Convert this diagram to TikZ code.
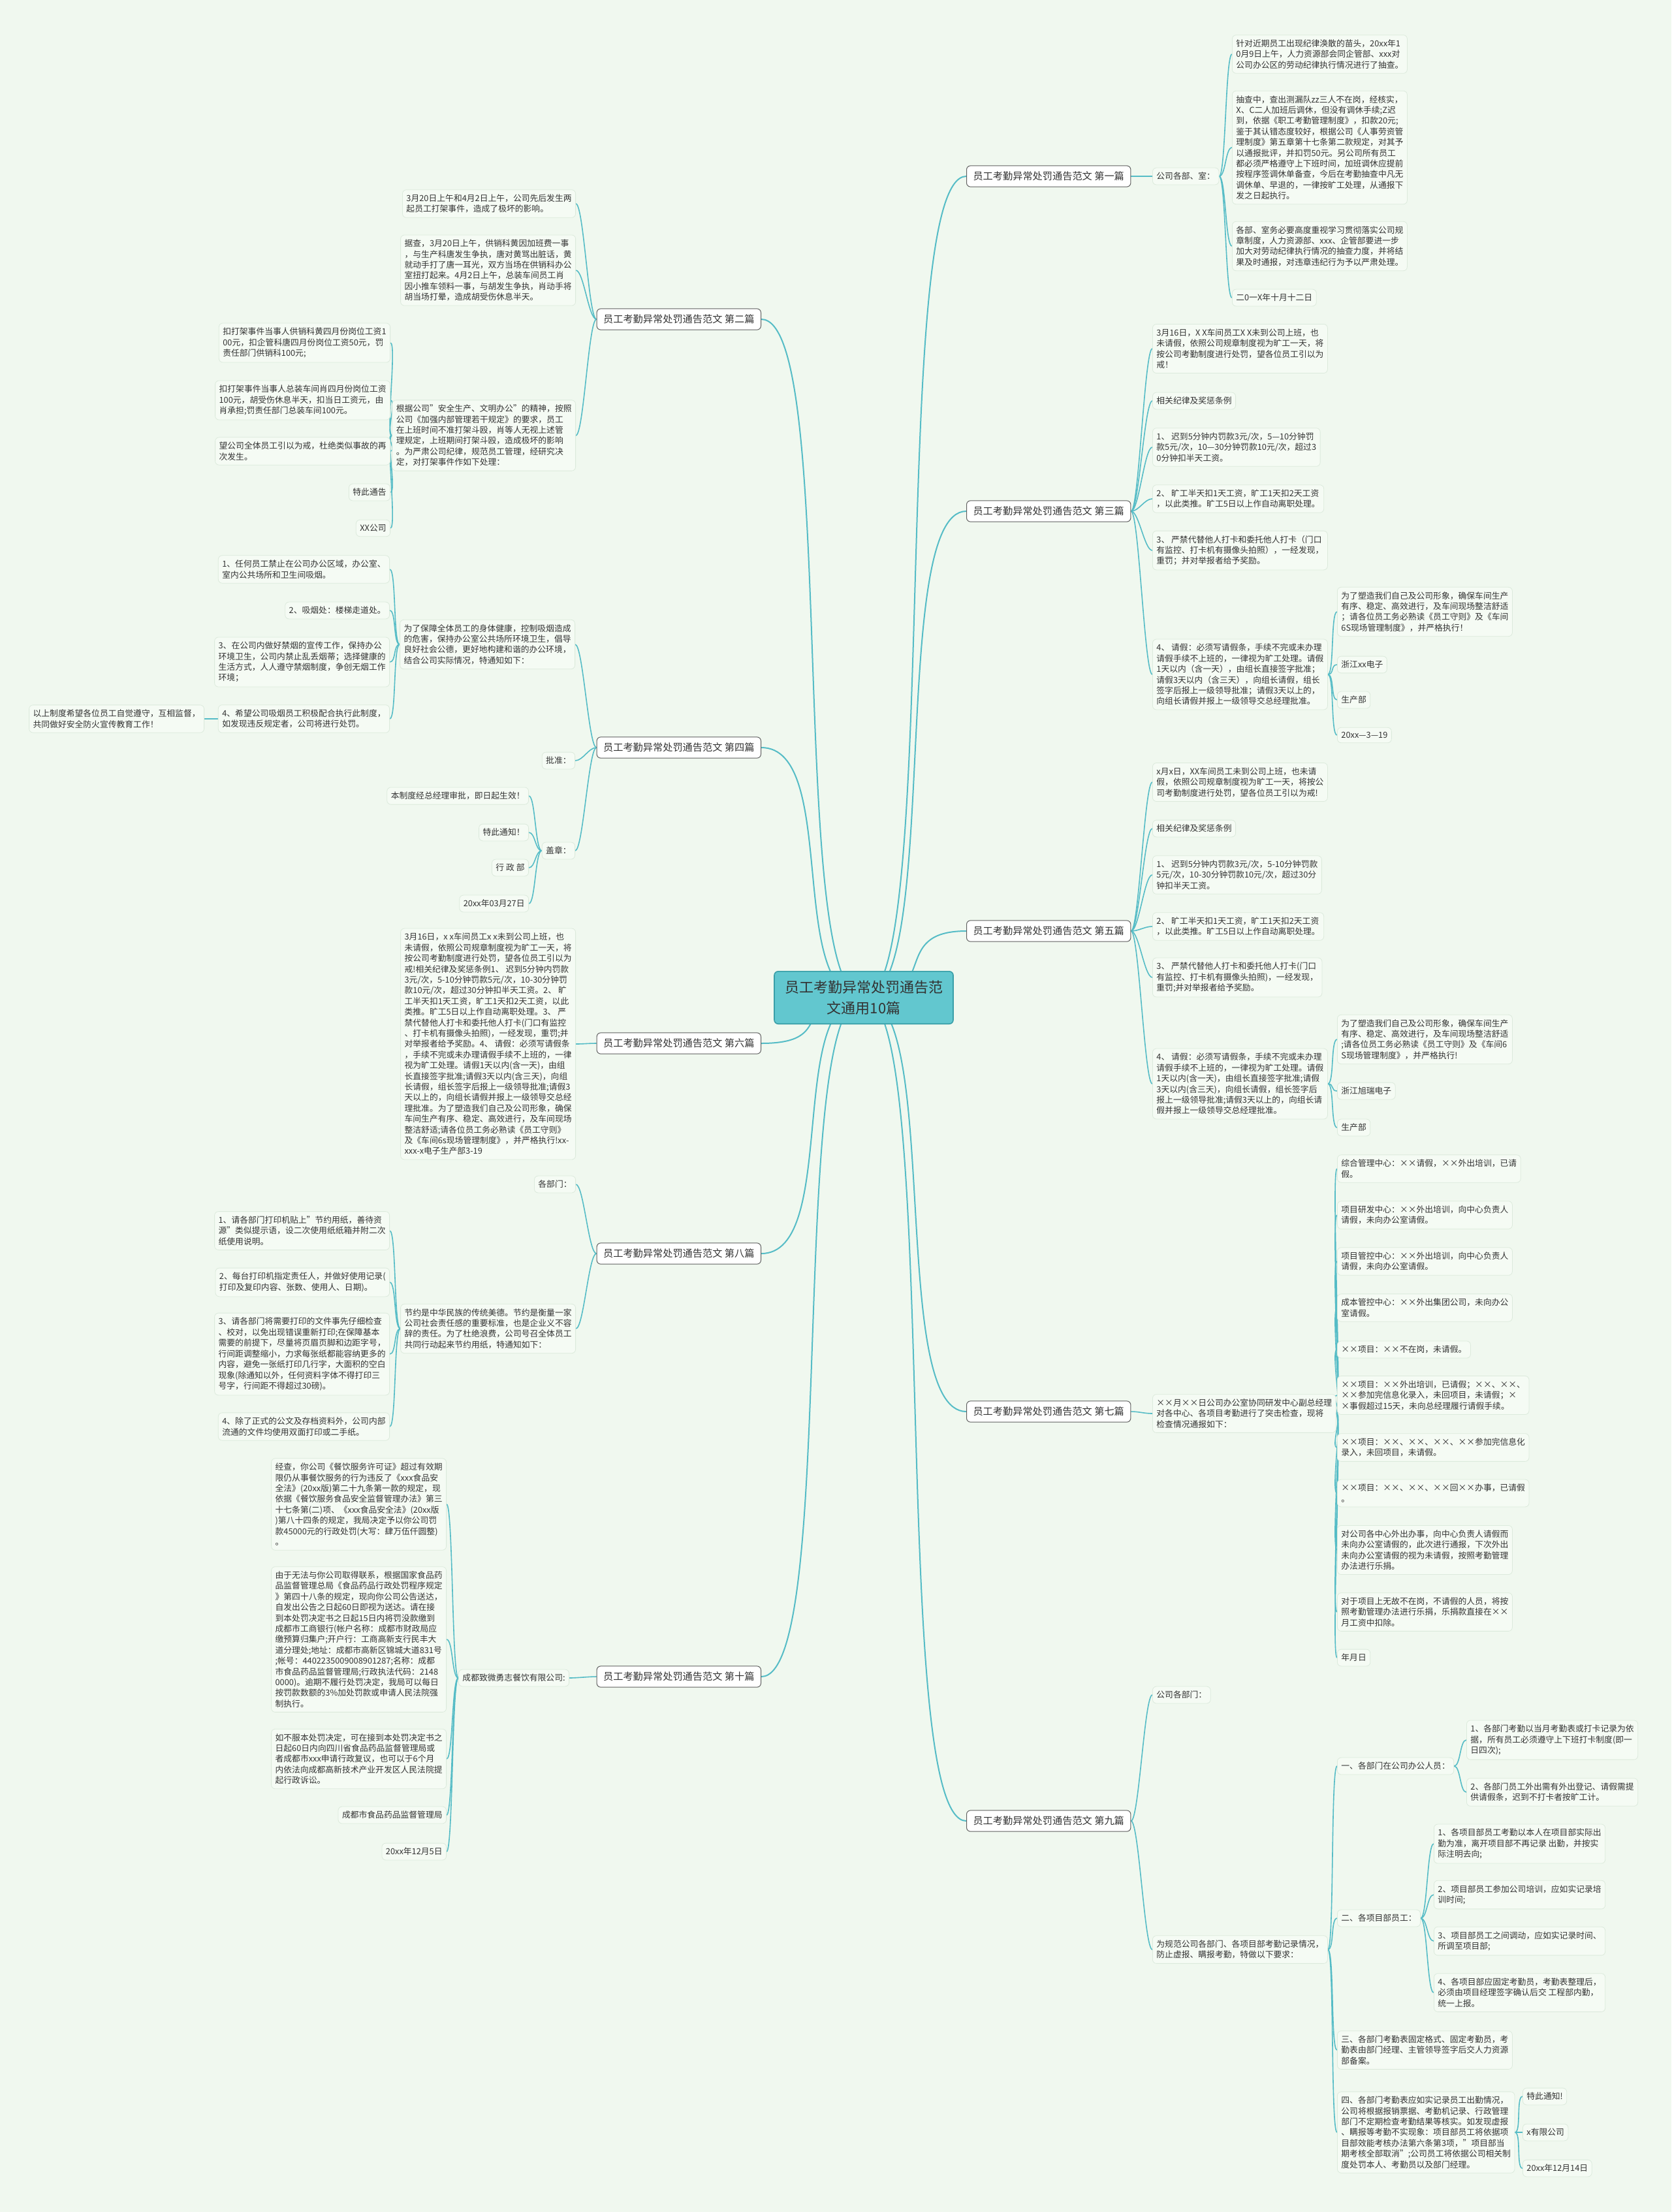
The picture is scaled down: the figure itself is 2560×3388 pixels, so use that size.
\documentclass[tikz,border=0pt]{standalone}
\usepackage{fontspec}
\setmainfont{Noto Sans CJK SC}
\usetikzlibrary{backgrounds}
\definecolor{paper}{HTML}{F0F8EF}
\definecolor{twig}{HTML}{55BCC6}
\definecolor{hubfill}{HTML}{62C7CF}
\definecolor{hubedge}{HTML}{3A9FA8}
\definecolor{leafedge}{HTML}{DCEADC}
\definecolor{leaffill}{HTML}{F5FBF4}
\definecolor{ink}{HTML}{333333}

\begin{document}
\begin{tikzpicture}[x=0.5pt,y=-0.5pt,
  hub/.style={draw=hubedge, fill=hubfill, rounded corners=3pt, line width=0.8pt, align=center, inner xsep=8pt, inner ysep=7pt, font=\fontsize{11}{16}\selectfont, text=ink},
  topic/.style={draw=gray!75!black, fill=white, rounded corners=3pt, line width=0.5pt, inner xsep=5pt, inner ysep=4.5pt, font=\fontsize{7.6}{9}\selectfont, text=ink},
  leaf/.style={draw=leafedge, fill=leaffill, rounded corners=3pt, line width=0.4pt, align=left, inner xsep=3pt, inner ysep=3.5pt, font=\fontsize{6.4}{8.2}\selectfont, text=ink},
  link/.style={draw=twig, line width=0.8pt},
  hublink/.style={draw=twig, line width=1pt},
  rcurve/.style={out=0, in=180, distance=#1},
  lcurve/.style={out=180, in=0, distance=#1}]

  \begin{pgfonlayer}{background}
    \fill[paper] (0,0) rectangle (2560,3388);
  \end{pgfonlayer}
  \useasboundingbox (0,0) rectangle (2560,3388);

  % centre
  \node[hub] (main) at (1323,1528) {员工考勤异常处罚通告范\\文通用10篇};

  % first
  \node[topic, anchor=west] (p1) at (1480,270) {员工考勤异常处罚通告范文 第一篇};
  \node[leaf, anchor=west] (p1s) at (1765,270) {公司各部、室：};
  \node[leaf, anchor=west] (p1a) at (1887,83) {针对近期员工出现纪律涣散的苗头，20xx年1\\0月9日上午，人力资源部会同企管部、xxx对\\公司办公区的劳动纪律执行情况进行了抽查。};
  \node[leaf, anchor=west] (p1b) at (1887,226) {抽查中，查出测漏队zz三人不在岗，经核实，\\X、C二人加班后调休，但没有调休手续;Z迟\\到，依据《职工考勤管理制度》，扣款20元;\\鉴于其认错态度较好，根据公司《人事劳资管\\理制度》第五章第十七条第二款规定，对其予\\以通报批评，并扣罚50元。另公司所有员工\\都必须严格遵守上下班时间，加班调休应提前\\按程序签调休单备查，今后在考勤抽查中凡无\\调休单、早退的，一律按旷工处理，从通报下\\发之日起执行。};
  \node[leaf, anchor=west] (p1c) at (1887,377) {各部、室务必要高度重视学习贯彻落实公司规\\章制度，人力资源部、xxx、企管部要进一步\\加大对劳动纪律执行情况的抽查力度，并将结\\果及时通报，对违章违纪行为予以严肃处理。};
  \node[leaf, anchor=west] (p1d) at (1887,456) {二0一X年十月十二日};

  % third
  \node[topic, anchor=west] (p3) at (1480,783) {员工考勤异常处罚通告范文 第三篇};
  \node[leaf, anchor=west] (p3a) at (1765,534) {3月16日，X X车间员工X X未到公司上班，也\\未请假，依照公司规章制度视为旷工一天，将\\按公司考勤制度进行处罚，望各位员工引以为\\戒！};
  \node[leaf, anchor=west] (p3b) at (1765,614) {相关纪律及奖惩条例};
  \node[leaf, anchor=west] (p3c) at (1765,685) {1、 迟到5分钟内罚款3元/次，5—10分钟罚\\款5元/次，10—30分钟罚款10元/次，超过3\\0分钟扣半天工资。};
  \node[leaf, anchor=west] (p3d) at (1765,764) {2、 旷工半天扣1天工资，旷工1天扣2天工资\\，以此类推。旷工5日以上作自动离职处理。};
  \node[leaf, anchor=west] (p3e) at (1765,843) {3、 严禁代替他人打卡和委托他人打卡（门口\\有监控、打卡机有摄像头拍照），一经发现，\\重罚；并对举报者给予奖励。};
  \node[leaf, anchor=west] (p3f) at (1765,1033) {4、 请假：必须写请假条，手续不完或未办理\\请假手续不上班的，一律视为旷工处理。请假\\1天以内（含一天），由组长直接签字批准；\\请假3天以内（含三天），向组长请假，组长\\签字后报上一级领导批准；请假3天以上的，\\向组长请假并报上一级领导交总经理批准。};
  \node[leaf, anchor=west] (p3g) at (2048,937) {为了塑造我们自己及公司形象，确保车间生产\\有序、稳定、高效进行，及车间现场整洁舒适\\；请各位员工务必熟读《员工守则》及《车间\\6S现场管理制度》，并严格执行！};
  \node[leaf, anchor=west] (p3h) at (2048,1018) {浙江xx电子};
  \node[leaf, anchor=west] (p3i) at (2048,1072) {生产部};
  \node[leaf, anchor=west] (p3j) at (2048,1126) {20xx—3—19};

  % fifth
  \node[topic, anchor=west] (p5) at (1480,1426) {员工考勤异常处罚通告范文 第五篇};
  \node[leaf, anchor=west] (p5a) at (1765,1198) {x月x日，XX车间员工未到公司上班，也未请\\假，依照公司规章制度视为旷工一天，将按公\\司考勤制度进行处罚，望各位员工引以为戒!};
  \node[leaf, anchor=west] (p5b) at (1765,1269) {相关纪律及奖惩条例};
  \node[leaf, anchor=west] (p5c) at (1765,1340) {1、 迟到5分钟内罚款3元/次，5-10分钟罚款\\5元/次，10-30分钟罚款10元/次，超过30分\\钟扣半天工资。};
  \node[leaf, anchor=west] (p5d) at (1765,1419) {2、 旷工半天扣1天工资，旷工1天扣2天工资\\，以此类推。旷工5日以上作自动离职处理。};
  \node[leaf, anchor=west] (p5e) at (1765,1497) {3、 严禁代替他人打卡和委托他人打卡(门口\\有监控、打卡机有摄像头拍照)，一经发现，\\重罚;并对举报者给予奖励。};
  \node[leaf, anchor=west] (p5f) at (1765,1660) {4、 请假：必须写请假条，手续不完或未办理\\请假手续不上班的，一律视为旷工处理。请假\\1天以内(含一天)，由组长直接签字批准;请假\\3天以内(含三天)，向组长请假，组长签字后\\报上一级领导批准;请假3天以上的，向组长请\\假并报上一级领导交总经理批准。};
  \node[leaf, anchor=west] (p5g) at (2048,1592) {为了塑造我们自己及公司形象，确保车间生产\\有序、稳定、高效进行，及车间现场整洁舒适\\;请各位员工务必熟读《员工守则》及《车间6\\S现场管理制度》，并严格执行!};
  \node[leaf, anchor=west] (p5h) at (2048,1671) {浙江旭瑞电子};
  \node[leaf, anchor=west] (p5i) at (2048,1727) {生产部};

  % seventh
  \node[topic, anchor=west] (p7) at (1480,2162) {员工考勤异常处罚通告范文 第七篇};
  \node[leaf, anchor=west] (p7s) at (1765,2165) {××月××日公司办公室协同研发中心副总经理\\对各中心、各项目考勤进行了突击检查，现将\\检查情况通报如下：};
  \node[leaf, anchor=west] (p7a) at (2048,1790) {综合管理中心：××请假，××外出培训，已请\\假。};
  \node[leaf, anchor=west] (p7b) at (2048,1861) {项目研发中心：××外出培训，向中心负责人\\请假，未向办公室请假。};
  \node[leaf, anchor=west] (p7c) at (2048,1932) {项目管控中心：××外出培训，向中心负责人\\请假，未向办公室请假。};
  \node[leaf, anchor=west] (p7d) at (2048,2003) {成本管控中心：××外出集团公司，未向办公\\室请假。};
  \node[leaf, anchor=west] (p7e) at (2048,2067) {××项目：××不在岗，未请假。};
  \node[leaf, anchor=west] (p7f) at (2048,2137) {××项目：××外出培训，已请假；××、××、\\××参加完信息化录入，未回项目，未请假；×\\×事假超过15天，未向总经理履行请假手续。};
  \node[leaf, anchor=west] (p7g) at (2048,2217) {××项目：××、××、××、××参加完信息化\\录入，未回项目，未请假。};
  \node[leaf, anchor=west] (p7h) at (2048,2287) {××项目：××、××、××回××办事，已请假\\。};
  \node[leaf, anchor=west] (p7i) at (2048,2374) {对公司各中心外出办事，向中心负责人请假而\\未向办公室请假的，此次进行通报，下次外出\\未向办公室请假的视为未请假，按照考勤管理\\办法进行乐捐。};
  \node[leaf, anchor=west] (p7j) at (2048,2469) {对于项目上无故不在岗，不请假的人员，将按\\照考勤管理办法进行乐捐，乐捐款直接在××\\月工资中扣除。};
  \node[leaf, anchor=west] (p7k) at (2048,2539) {年月日};

  % ninth
  \node[topic, anchor=west] (p9) at (1480,2789) {员工考勤异常处罚通告范文 第九篇};
  \node[leaf, anchor=west] (p9a) at (1765,2596) {公司各部门：};
  \node[leaf, anchor=west] (p9b) at (1765,2986) {为规范公司各部门、各项目部考勤记录情况，\\防止虚报、瞒报考勤，特做以下要求：};
  \node[leaf, anchor=west] (p9c) at (2048,2705) {一、各部门在公司办公人员：};
  \node[leaf, anchor=west] (p9d) at (2048,2938) {二、各项目部员工：};
  \node[leaf, anchor=west] (p9e) at (2048,3140) {三、各部门考勤表固定格式、固定考勤员，考\\勤表由部门经理、主管领导签字后交人力资源\\部备案。};
  \node[leaf, anchor=west] (p9f) at (2048,3266) {四、各部门考勤表应如实记录员工出勤情况，\\公司将根据报销票据、考勤机记录、行政管理\\部门不定期检查考勤结果等核实。如发现虚报\\、瞒报等考勤不实现象：项目部员工将依据项\\目部效能考核办法第六条第3项，"项目部当\\期考核全部取消";公司员工将依据公司相关制\\度处罚本人、考勤员以及部门经理。};
  \node[leaf, anchor=west] (p9g) at (2246,2665) {1、各部门考勤以当月考勤表或打卡记录为依\\据，所有员工必须遵守上下班打卡制度(即一\\日四次);};
  \node[leaf, anchor=west] (p9h) at (2246,2745) {2、各部门员工外出需有外出登记、请假需提\\供请假条，迟到不打卡者按旷工计。};
  \node[leaf, anchor=west] (p9i) at (2196,2824) {1、各项目部员工考勤以本人在项目部实际出\\勤为准，离开项目部不再记录 出勤，并按实\\际注明去向;};
  \node[leaf, anchor=west] (p9j) at (2196,2902) {2、项目部员工参加公司培训，应如实记录培\\训时间;};
  \node[leaf, anchor=west] (p9k) at (2196,2973) {3、项目部员工之间调动，应如实记录时间、\\所调至项目部;};
  \node[leaf, anchor=west] (p9l) at (2196,3052) {4、各项目部应固定考勤员，考勤表整理后，\\必须由项目经理签字确认后交 工程部内勤，\\统一上报。};
  \node[leaf, anchor=west] (p9m) at (2332,3211) {特此通知!};
  \node[leaf, anchor=west] (p9n) at (2332,3266) {x有限公司};
  \node[leaf, anchor=west] (p9o) at (2332,3321) {20xx年12月14日};

  % second
  \node[topic, anchor=east] (p2) at (1166,489) {员工考勤异常处罚通告范文 第二篇};
  \node[leaf, anchor=east] (p2a) at (882,312) {3月20日上午和4月2日上午，公司先后发生两\\起员工打架事件，造成了极坏的影响。};
  \node[leaf, anchor=east] (p2b) at (882,414) {据查，3月20日上午，供销科黄因加班费一事\\，与生产科唐发生争执，唐对黄骂出脏话，黄\\就动手打了唐一耳光，双方当场在供销科办公\\室扭打起来。4月2日上午，总装车间员工肖\\因小推车领料一事，与胡发生争执，肖动手将\\胡当场打晕，造成胡受伤休息半天。};
  \node[leaf, anchor=east] (p2c) at (882,667) {根据公司"安全生产、文明办公"的精神，按照\\公司《加强内部管理若干规定》的要求，员工\\在上班时间不准打架斗殴，肖等人无视上述管\\理规定，上班期间打架斗殴，造成极坏的影响\\。为严肃公司纪律，规范员工管理，经研究决\\定，对打架事件作如下处理：};
  \node[leaf, anchor=east] (p2d) at (598,525) {扣打架事件当事人供销科黄四月份岗位工资1\\00元，扣企管科唐四月份岗位工资50元，罚\\责任部门供销科100元;};
  \node[leaf, anchor=east] (p2e) at (598,613) {扣打架事件当事人总装车间肖四月份岗位工资\\100元，胡受伤休息半天，扣当日工资元，由\\肖承担;罚责任部门总装车间100元。};
  \node[leaf, anchor=east] (p2f) at (598,691) {望公司全体员工引以为戒，杜绝类似事故的再\\次发生。};
  \node[leaf, anchor=east] (p2g) at (598,754) {特此通告};
  \node[leaf, anchor=east] (p2h) at (598,809) {XX公司};

  % fourth
  \node[topic, anchor=east] (p4) at (1166,1145) {员工考勤异常处罚通告范文 第四篇};
  \node[leaf, anchor=east] (p4a) at (881,987) {为了保障全体员工的身体健康，控制吸烟造成\\的危害，保持办公室公共场所环境卫生，倡导\\良好社会公德，更好地构建和谐的办公环境，\\结合公司实际情况，特通知如下：};
  \node[leaf, anchor=east] (p4b) at (881,1165) {批准：};
  \node[leaf, anchor=east] (p4c) at (881,1303) {盖章：};
  \node[leaf, anchor=east] (p4d) at (597,872) {1、任何员工禁止在公司办公区域，办公室、\\室内公共场所和卫生间吸烟。};
  \node[leaf, anchor=east] (p4e) at (597,935) {2、吸烟处：楼梯走道处。};
  \node[leaf, anchor=east] (p4f) at (597,1014) {3、在公司内做好禁烟的宣传工作，保持办公\\环境卫生，公司内禁止乱丢烟蒂；选择健康的\\生活方式，人人遵守禁烟制度，争创无烟工作\\环境；};
  \node[leaf, anchor=east] (p4g) at (597,1101) {4、希望公司吸烟员工积极配合执行此制度，\\如发现违反规定者，公司将进行处罚。};
  \node[leaf, anchor=east] (p4h) at (313,1101) {以上制度希望各位员工自觉遵守，互相监督，\\共同做好安全防火宣传教育工作！};
  \node[leaf, anchor=east] (p4i) at (810,1219) {本制度经总经理审批，即日起生效！};
  \node[leaf, anchor=east] (p4j) at (810,1275) {特此通知！};
  \node[leaf, anchor=east] (p4k) at (810,1329) {行 政 部};
  \node[leaf, anchor=east] (p4l) at (810,1384) {20xx年03月27日};

  % sixth
  \node[topic, anchor=east] (p6) at (1166,1598) {员工考勤异常处罚通告范文 第六篇};
  \node[leaf, anchor=east] (p6a) at (882,1599) {3月16日，x x车间员工x x未到公司上班，也\\未请假，依照公司规章制度视为旷工一天，将\\按公司考勤制度进行处罚，望各位员工引以为\\戒!相关纪律及奖惩条例1、 迟到5分钟内罚款\\3元/次，5-10分钟罚款5元/次，10-30分钟罚\\款10元/次，超过30分钟扣半天工资。2、 旷\\工半天扣1天工资，旷工1天扣2天工资，以此\\类推。旷工5日以上作自动离职处理。3、 严\\禁代替他人打卡和委托他人打卡(门口有监控\\、打卡机有摄像头拍照)，一经发现，重罚;并\\对举报者给予奖励。4、 请假：必须写请假条\\，手续不完或未办理请假手续不上班的，一律\\视为旷工处理。请假1天以内(含一天)，由组\\长直接签字批准;请假3天以内(含三天)，向组\\长请假，组长签字后报上一级领导批准;请假3\\天以上的，向组长请假并报上一级领导交总经\\理批准。为了塑造我们自己及公司形象，确保\\车间生产有序、稳定、高效进行，及车间现场\\整洁舒适;请各位员工务必熟读《员工守则》\\及《车间6s现场管理制度》，并严格执行!xx-\\xxx-x电子生产部3-19};

  % eighth
  \node[topic, anchor=east] (p8) at (1166,1920) {员工考勤异常处罚通告范文 第八篇};
  \node[leaf, anchor=east] (p8a) at (882,1814) {各部门：};
  \node[leaf, anchor=east] (p8b) at (882,2035) {节约是中华民族的传统美德。节约是衡量一家\\公司社会责任感的重要标准，也是企业义不容\\辞的责任。为了杜绝浪费，公司号召全体员工\\共同行动起来节约用纸，特通知如下：};
  \node[leaf, anchor=east] (p8c) at (597,1885) {1、请各部门打印机贴上"节约用纸，善待资\\源"类似提示语，设二次使用纸纸箱并附二次\\纸使用说明。};
  \node[leaf, anchor=east] (p8d) at (597,1964) {2、每台打印机指定责任人，并做好使用记录(\\打印及复印内容、张数、使用人、日期)。};
  \node[leaf, anchor=east] (p8e) at (597,2074) {3、请各部门将需要打印的文件事先仔细检查\\、校对，以免出现错误重新打印;在保障基本\\需要的前提下，尽量将页眉页脚和边距字号，\\行间距调整缩小，力求每张纸都能容纳更多的\\内容，避免一张纸打印几行字，大面积的空白\\现象(除通知以外，任何资料字体不得打印三\\号字，行间距不得超过30磅)。};
  \node[leaf, anchor=east] (p8f) at (597,2185) {4、除了正式的公文及存档资料外，公司内部\\流通的文件均使用双面打印或二手纸。};

  % tenth
  \node[topic, anchor=east] (p10) at (1166,2568) {员工考勤异常处罚通告范文 第十篇};
  \node[leaf, anchor=east] (p10s) at (872,2570) {成都致微勇志餐饮有限公司:};
  \node[leaf, anchor=east] (p10a) at (684,2304) {经查，你公司《餐饮服务许可证》超过有效期\\限仍从事餐饮服务的行为违反了《xxx食品安\\全法》(20xx版)第二十九条第一款的规定，现\\依据《餐饮服务食品安全监督管理办法》第三\\十七条第(二)项、《xxx食品安全法》(20xx版\\)第八十四条的规定，我局决定予以你公司罚\\款45000元的行政处罚(大写：肆万伍仟圆整)\\。};
  \node[leaf, anchor=east] (p10b) at (684,2511) {由于无法与你公司取得联系，根据国家食品药\\品监督管理总局《食品药品行政处罚程序规定\\》第四十八条的规定，现向你公司公告送达，\\自发出公告之日起60日即视为送达。请在接\\到本处罚决定书之日起15日内将罚没款缴到\\成都市工商银行(帐户名称：成都市财政局应\\缴预算归集户;开户行：工商高新支行民丰大\\道分理处;地址：成都市高新区锦城大道831号\\;帐号：4402235009008901287;名称：成都\\市食品药品监督管理局;行政执法代码：2148\\0000)。逾期不履行处罚决定，我局可以每日\\按罚款数额的3\%加处罚款或申请人民法院强\\制执行。};
  \node[leaf, anchor=east] (p10c) at (684,2694) {如不服本处罚决定，可在接到本处罚决定书之\\日起60日内向四川省食品药品监督管理局或\\者成都市xxx申请行政复议，也可以于6个月\\内依法向成都高新技术产业开发区人民法院提\\起行政诉讼。};
  \node[leaf, anchor=east] (p10d) at (684,2780) {成都市食品药品监督管理局};
  \node[leaf, anchor=east] (p10e) at (684,2836) {20xx年12月5日};

  % connectors, kept under the boxes
  \begin{pgfonlayer}{background}
    \draw[hublink] (main.center) to[rcurve=60pt] (p1.west);
    \draw[hublink] (main.center) to[rcurve=60pt] (p3.west);
    \draw[hublink] (main.center) to[rcurve=60pt] (p5.west);
    \draw[hublink] (main.center) to[rcurve=60pt] (p7.west);
    \draw[hublink] (main.center) to[rcurve=60pt] (p9.west);
    \draw[hublink] (main.center) to[lcurve=60pt] (p2.east);
    \draw[hublink] (main.center) to[lcurve=60pt] (p4.east);
    \draw[hublink] (main.center) to[lcurve=60pt] (p6.east);
    \draw[hublink] (main.center) to[lcurve=60pt] (p8.east);
    \draw[hublink] (main.center) to[lcurve=60pt] (p10.east);

    \draw[link] (p1.east) to[rcurve=6pt] (p1s.west);
    \draw[link] (p1s.east) to[rcurve=5pt] (p1a.west);
    \draw[link] (p1s.east) to[rcurve=5pt] (p1b.west);
    \draw[link] (p1s.east) to[rcurve=5pt] (p1c.west);
    \draw[link] (p1s.east) to[rcurve=5pt] (p1d.west);

    \draw[link] (p3.east) to[rcurve=6pt] (p3a.west);
    \draw[link] (p3.east) to[rcurve=6pt] (p3b.west);
    \draw[link] (p3.east) to[rcurve=6pt] (p3c.west);
    \draw[link] (p3.east) to[rcurve=6pt] (p3d.west);
    \draw[link] (p3.east) to[rcurve=6pt] (p3e.west);
    \draw[link] (p3.east) to[rcurve=6pt] (p3f.west);
    \draw[link] (p3f.east) to[rcurve=5pt] (p3g.west);
    \draw[link] (p3f.east) to[rcurve=5pt] (p3h.west);
    \draw[link] (p3f.east) to[rcurve=5pt] (p3i.west);
    \draw[link] (p3f.east) to[rcurve=5pt] (p3j.west);

    \draw[link] (p5.east) to[rcurve=6pt] (p5a.west);
    \draw[link] (p5.east) to[rcurve=6pt] (p5b.west);
    \draw[link] (p5.east) to[rcurve=6pt] (p5c.west);
    \draw[link] (p5.east) to[rcurve=6pt] (p5d.west);
    \draw[link] (p5.east) to[rcurve=6pt] (p5e.west);
    \draw[link] (p5.east) to[rcurve=6pt] (p5f.west);
    \draw[link] (p5f.east) to[rcurve=5pt] (p5g.west);
    \draw[link] (p5f.east) to[rcurve=5pt] (p5h.west);
    \draw[link] (p5f.east) to[rcurve=5pt] (p5i.west);

    \draw[link] (p7.east) to[rcurve=6pt] (p7s.west);
    \draw[link] (p7s.east) to[rcurve=5pt] (p7a.west);
    \draw[link] (p7s.east) to[rcurve=5pt] (p7b.west);
    \draw[link] (p7s.east) to[rcurve=5pt] (p7c.west);
    \draw[link] (p7s.east) to[rcurve=5pt] (p7d.west);
    \draw[link] (p7s.east) to[rcurve=5pt] (p7e.west);
    \draw[link] (p7s.east) to[rcurve=5pt] (p7f.west);
    \draw[link] (p7s.east) to[rcurve=5pt] (p7g.west);
    \draw[link] (p7s.east) to[rcurve=5pt] (p7h.west);
    \draw[link] (p7s.east) to[rcurve=5pt] (p7i.west);
    \draw[link] (p7s.east) to[rcurve=5pt] (p7j.west);
    \draw[link] (p7s.east) to[rcurve=5pt] (p7k.west);

    \draw[link] (p9.east) to[rcurve=6pt] (p9a.west);
    \draw[link] (p9.east) to[rcurve=6pt] (p9b.west);
    \draw[link] (p9b.east) to[rcurve=5pt] (p9c.west);
    \draw[link] (p9b.east) to[rcurve=5pt] (p9d.west);
    \draw[link] (p9b.east) to[rcurve=5pt] (p9e.west);
    \draw[link] (p9b.east) to[rcurve=5pt] (p9f.west);
    \draw[link] (p9c.east) to[rcurve=5pt] (p9g.west);
    \draw[link] (p9c.east) to[rcurve=5pt] (p9h.west);
    \draw[link] (p9d.east) to[rcurve=5pt] (p9i.west);
    \draw[link] (p9d.east) to[rcurve=5pt] (p9j.west);
    \draw[link] (p9d.east) to[rcurve=5pt] (p9k.west);
    \draw[link] (p9d.east) to[rcurve=5pt] (p9l.west);
    \draw[link] (p9f.east) to[rcurve=5pt] (p9m.west);
    \draw[link] (p9f.east) to[rcurve=5pt] (p9n.west);
    \draw[link] (p9f.east) to[rcurve=5pt] (p9o.west);

    \draw[link] (p2.west) to[lcurve=6pt] (p2a.east);
    \draw[link] (p2.west) to[lcurve=6pt] (p2b.east);
    \draw[link] (p2.west) to[lcurve=6pt] (p2c.east);
    \draw[link] (p2c.west) to[lcurve=5pt] (p2d.east);
    \draw[link] (p2c.west) to[lcurve=5pt] (p2e.east);
    \draw[link] (p2c.west) to[lcurve=5pt] (p2f.east);
    \draw[link] (p2c.west) to[lcurve=5pt] (p2g.east);
    \draw[link] (p2c.west) to[lcurve=5pt] (p2h.east);

    \draw[link] (p4.west) to[lcurve=6pt] (p4a.east);
    \draw[link] (p4.west) to[lcurve=6pt] (p4b.east);
    \draw[link] (p4.west) to[lcurve=6pt] (p4c.east);
    \draw[link] (p4a.west) to[lcurve=5pt] (p4d.east);
    \draw[link] (p4a.west) to[lcurve=5pt] (p4e.east);
    \draw[link] (p4a.west) to[lcurve=5pt] (p4f.east);
    \draw[link] (p4a.west) to[lcurve=5pt] (p4g.east);
    \draw[link, line width=1.2pt] (p4g.west) -- (p4h.east);
    \draw[link] (p4c.west) to[lcurve=5pt] (p4i.east);
    \draw[link] (p4c.west) to[lcurve=5pt] (p4j.east);
    \draw[link] (p4c.west) to[lcurve=5pt] (p4k.east);
    \draw[link] (p4c.west) to[lcurve=5pt] (p4l.east);

    \draw[link] (p6.west) to[lcurve=6pt] (p6a.east);

    \draw[link] (p8.west) to[lcurve=6pt] (p8a.east);
    \draw[link] (p8.west) to[lcurve=6pt] (p8b.east);
    \draw[link] (p8b.west) to[lcurve=5pt] (p8c.east);
    \draw[link] (p8b.west) to[lcurve=5pt] (p8d.east);
    \draw[link] (p8b.west) to[lcurve=5pt] (p8e.east);
    \draw[link] (p8b.west) to[lcurve=5pt] (p8f.east);

    \draw[link] (p10.west) to[lcurve=6pt] (p10s.east);
    \draw[link] (p10s.west) to[lcurve=5pt] (p10a.east);
    \draw[link] (p10s.west) to[lcurve=5pt] (p10b.east);
    \draw[link] (p10s.west) to[lcurve=5pt] (p10c.east);
    \draw[link] (p10s.west) to[lcurve=5pt] (p10d.east);
    \draw[link] (p10s.west) to[lcurve=5pt] (p10e.east);
  \end{pgfonlayer}
\end{tikzpicture}
\end{document}
